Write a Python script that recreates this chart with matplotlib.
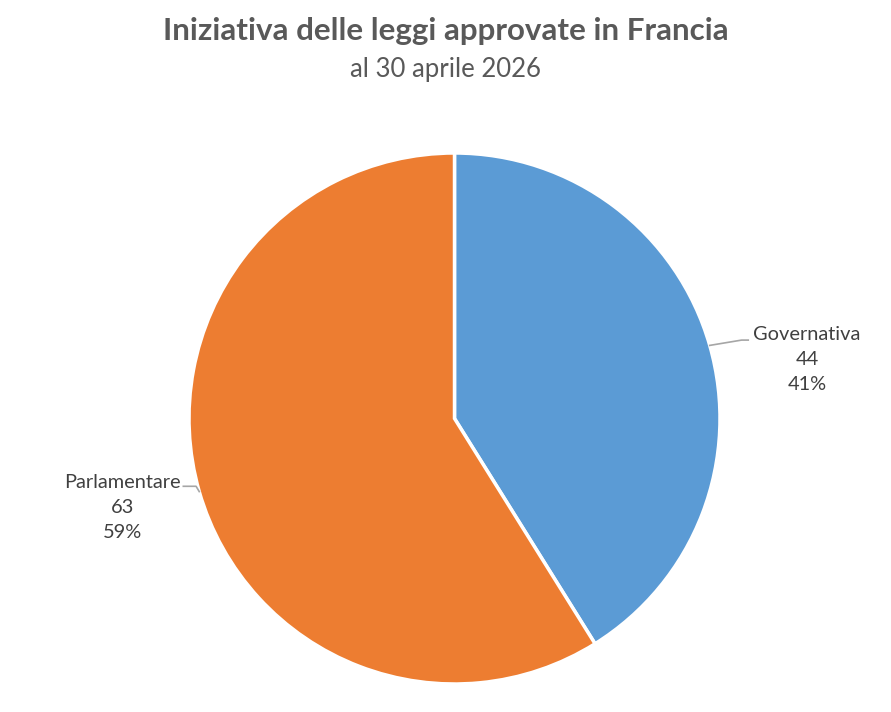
import numpy as np
import matplotlib
matplotlib.use("Agg")
import matplotlib.pyplot as plt

categories = ["Governativa", "Parlamentare"]
values = [44, 63]
colors = ["#5B9BD5", "#ED7D31"]
title = "Iniziativa delle leggi approvate in Francia"
subtitle = "al 30 aprile 2026"

plt.rcParams['font.family'] = ['Lato', 'DejaVu Sans']

W, H = 891, 712
fig = plt.figure(figsize=(W / 100, H / 100), dpi=100)
cx, cy, r = 454.5, 418.5, 265.5
ax = fig.add_axes([(cx - r) / W, (H - cy - r) / H, 2 * r / W, 2 * r / H])
wedges, _ = ax.pie(values, colors=colors, startangle=90, counterclock=False,
                   wedgeprops=dict(edgecolor="white", linewidth=2.5))
ax.set_xlim(-1, 1)
ax.set_ylim(-1, 1)
ax.set_aspect('equal')
ax.axis('off')

total = sum(values)
label_pos = [(1.328, 0.222), (-1.252, -0.336)]
for w, cat, v, (lx, ly) in zip(wedges, categories, values, label_pos):
    mid = np.deg2rad((w.theta1 + w.theta2) / 2)
    ex, ey = np.cos(mid), np.sin(mid)
    pct = round(100 * v / total)
    ax.text(lx, ly, f"{cat}\n{v}\n{pct}%", ha='center', va='center',
            fontsize=14.4, color="#404040", linespacing=1.58, clip_on=False)
    if ex > 0:
        xs = [ex, ex + 0.12, ex + 0.145]
        ys = [ey, ey + 0.02, ey + 0.02]
    else:
        xs = [ex, ex - 0.012, ex - 0.06]
        ys = [ey, ey + 0.02, ey + 0.02]
    ax.plot(xs, ys, color="#A6A6A6", linewidth=1.2, clip_on=False)

fig.text(0.5, 1 - 31 / H, title, ha='center', va='center', fontsize=22.6,
         fontweight='bold', color="#595959")
fig.text(0.5, 1 - 69 / H, subtitle, ha='center', va='center', fontsize=18.5,
         color="#595959")

fig.savefig("out.png", dpi=100, facecolor="white")
